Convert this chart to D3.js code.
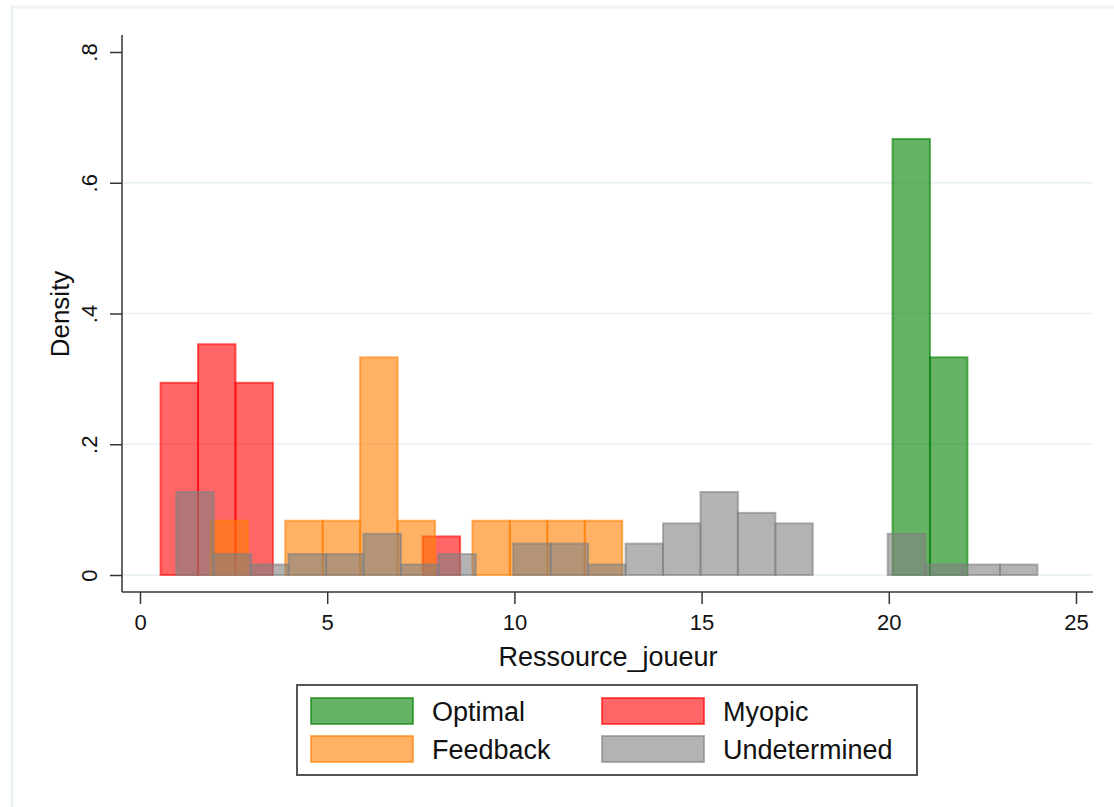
<!DOCTYPE html>
<html>
<head>
<meta charset="utf-8">
<script src="https://cdn.jsdelivr.net/npm/d3@7"></script>
<style>
  html, body { margin: 0; padding: 0; background: #ffffff; }
  svg { display: block; font-family: "Liberation Sans", Arial, sans-serif; }
</style>
</head>
<body>
<svg id="chart" width="1114" height="807"></svg>
<script>
// ---- data ----
const seriesNames = ["Optimal", "Myopic", "Feedback", "Undetermined"];
const binWidth = 1;

const optimalStart = 20.1;
const optimalDensity = [0.667, 0.333];

const myopicStart = 0.55;
const myopicDensity = [0.294, 0.353, 0.294, 0, 0, 0, 0, 0.059];

const feedbackStart = 1.88;
const feedbackDensity = [0.083, 0, 0.083, 0.083, 0.333, 0.083, 0, 0.083, 0.083, 0.083, 0.083];

const undeterminedStart = 0.97;
const undeterminedDensity = [0.127, 0.032, 0.016, 0.032, 0.032, 0.063, 0.016, 0.032, 0,
  0.048, 0.048, 0.016, 0.048, 0.079, 0.127, 0.095, 0.079, 0, 0, 0.063, 0.016, 0.016, 0.016];

const xTicks = [0, 5, 10, 15, 20, 25];
const yTicks = [0, 0.2, 0.4, 0.6, 0.8];
const yTickLabels = ["0", ".2", ".4", ".6", ".8"];
const gridValues = [0, 0.2, 0.4, 0.6];

const colors = {
  Optimal: "#008000",
  Myopic: "#ff0000",
  Feedback: "#ff7f00",
  Undetermined: "#808080"
};

const series = [
  { name: "Optimal", start: optimalStart, dens: optimalDensity },
  { name: "Myopic", start: myopicStart, dens: myopicDensity },
  { name: "Feedback", start: feedbackStart, dens: feedbackDensity },
  { name: "Undetermined", start: undeterminedStart, dens: undeterminedDensity }
];

// ---- layout ----
const svg = d3.select("#chart");
const x = d3.scaleLinear().domain([0, 25]).range([140, 1076]);
const y = d3.scaleLinear().domain([0, 0.8]).range([575, 52]);
const axisLeftX = 122, axisBottomY = 592;

// outer frame
svg.append("rect").attr("x", 12).attr("y", 7).attr("width", 1130).attr("height", 830)
  .attr("fill", "none").attr("stroke", "#edf3f3").attr("stroke-width", 3);

// gridlines
svg.append("g").selectAll("line").data(gridValues).join("line")
  .attr("x1", axisLeftX).attr("x2", 1093)
  .attr("y1", d => y(d)).attr("y2", d => y(d))
  .attr("stroke", "#e6eff1").attr("stroke-width", 1.5);

// bars
series.forEach(s => {
  const bins = s.dens.map((d, i) => ({ x0: s.start + i * binWidth, x1: s.start + (i + 1) * binWidth, d }))
    .filter(b => b.d > 0);
  svg.append("g").selectAll("rect").data(bins).join("rect")
    .attr("x", b => x(b.x0))
    .attr("width", b => x(b.x1) - x(b.x0))
    .attr("y", b => y(b.d))
    .attr("height", b => y(0) - y(b.d))
    .attr("fill", colors[s.name]).attr("fill-opacity", 0.6)
    .attr("stroke", colors[s.name]).attr("stroke-opacity", 0.6).attr("stroke-width", 2);
});

// axes
const axisColor = "#333333";
const yAxis = svg.append("g").attr("transform", `translate(${axisLeftX},0)`)
  .call(d3.axisLeft(y).tickValues(yTicks).tickSize(12).tickFormat((d, i) => yTickLabels[i]));
yAxis.select(".domain").attr("d", `M0,35V${axisBottomY}`).attr("stroke", axisColor).attr("stroke-width", 1.5);
yAxis.selectAll(".tick line").attr("stroke", axisColor).attr("stroke-width", 1.5);
yAxis.selectAll(".tick text")
  .attr("font-size", 22).attr("fill", "#111")
  .attr("transform", "rotate(-90)")
  .attr("x", 0).attr("y", -25).attr("dy", 0)
  .attr("text-anchor", "middle")
  .style("font-family", "'Liberation Sans', Arial, sans-serif");

const xAxis = svg.append("g").attr("transform", `translate(0,${axisBottomY})`)
  .call(d3.axisBottom(x).tickValues(xTicks).tickSize(12).tickFormat(d3.format("d")));
xAxis.select(".domain").attr("d", `M${axisLeftX},0H1093`).attr("stroke", axisColor).attr("stroke-width", 1.5);
xAxis.selectAll(".tick line").attr("stroke", axisColor).attr("stroke-width", 1.5);
xAxis.selectAll(".tick text")
  .attr("font-size", 22).attr("fill", "#111").attr("y", 22).attr("dy", "0.71em")
  .style("font-family", "'Liberation Sans', Arial, sans-serif");

// axis titles
svg.append("text").attr("x", 608).attr("y", 666).attr("text-anchor", "middle")
  .attr("font-size", 27).attr("fill", "#111").text("Ressource_joueur");
svg.append("text").attr("transform", "translate(69,314) rotate(-90)").attr("text-anchor", "middle")
  .attr("font-size", 26).attr("fill", "#111").text("Density");

// legend
svg.append("rect").attr("x", 297).attr("y", 685).attr("width", 620).attr("height", 90)
  .attr("fill", "#fff").attr("stroke", "#555").attr("stroke-width", 2);
const legendPos = {
  Optimal: [310, 697], Myopic: [601, 697],
  Feedback: [310, 735], Undetermined: [601, 735]
};
const lg = svg.append("g").selectAll("g").data(seriesNames).join("g")
  .attr("transform", d => `translate(${legendPos[d][0]},${legendPos[d][1]})`);
lg.append("rect").attr("x", 1).attr("y", 1).attr("width", 102).attr("height", 26)
  .attr("fill", d => colors[d]).attr("fill-opacity", 0.6)
  .attr("stroke", d => colors[d]).attr("stroke-opacity", 0.6).attr("stroke-width", 2);
lg.append("text").attr("x", 122).attr("y", 24)
  .attr("font-size", 27).attr("fill", "#111").text(d => d);
</script>
</body>
</html>
